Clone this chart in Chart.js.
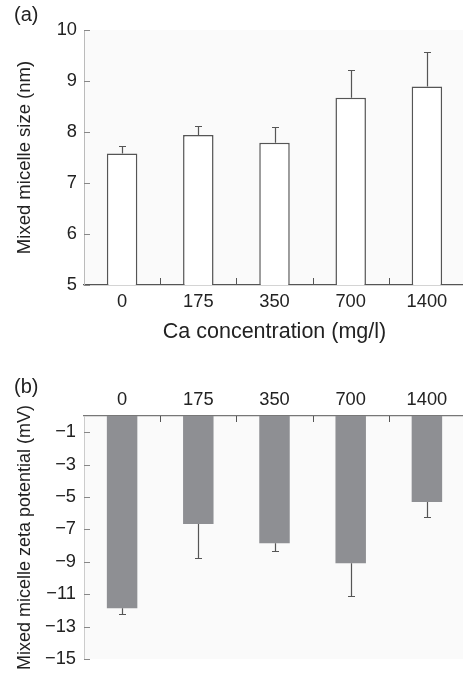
<!DOCTYPE html>
<html lang="en">
<head>
<meta charset="UTF-8" />
<title>Mixed micelle size and zeta potential</title>
<script src="https://cdn.jsdelivr.net/npm/chart.js"></script>
<style>
  html, body { margin: 0; padding: 0; background: #fff; overflow: hidden; }
  body { width: 463px; height: 678px; position: relative; font-family: "Liberation Sans", Arial, sans-serif; }
  canvas { position: absolute; left: 0; }
  #graficoTamanho { top: 0; }
  #graficoZeta { top: 345px; }
  .letra { position: absolute; left: 14px; font-size: 20px; color: #222; line-height: 23px; }
</style>
</head>
<body>
  <canvas id="graficoTamanho" width="469" height="345"></canvas>
  <canvas id="graficoZeta" width="469" height="333"></canvas>
  <div class="letra" style="top:3px">(a)</div>
  <div class="letra" style="top:375px">(b)</div>

<script>
  var categorias = ["0", "175", "350", "700", "1400"];
  var tamanho = [7.58, 7.94, 7.79, 8.67, 8.89];
  var tamanhoErro = [0.14, 0.18, 0.31, 0.55, 0.68];
  var zeta = [-11.86, -6.66, -7.85, -9.09, -5.31];
  var zetaErro = [0.38, 2.12, 0.47, 2.02, 0.93];
  var ticksTamanho = [5, 6, 7, 8, 9, 10];
  var ticksZeta = [-1, -3, -5, -7, -9, -11, -13, -15];

  var fonte = '"Liberation Sans", Arial, sans-serif';

  // error bars, one side only (sentido +1 up, -1 down)
  function barrasErro(erros, sentido) {
    return {
      id: "barrasErro",
      afterDatasetsDraw: function (chart) {
        var ctx = chart.ctx;
        var y = chart.scales.y;
        var meta = chart.getDatasetMeta(0);
        var valores = chart.data.datasets[0].data;
        ctx.save();
        ctx.strokeStyle = "#555";
        ctx.lineWidth = 1.2;
        ctx.beginPath();
        for (var i = 0; i < valores.length; i++) {
          var x = Math.round(meta.data[i].x) + 0.5;
          var y0 = y.getPixelForValue(valores[i]);
          var y1 = Math.round(y.getPixelForValue(valores[i] + sentido * erros[i])) + 0.5;
          ctx.moveTo(x, y0);
          ctx.lineTo(x, y1);
          ctx.moveTo(x - 3.5, y1);
          ctx.lineTo(x + 3.5, y1);
        }
        ctx.stroke();
        ctx.restore();
      }
    };
  }

  // light plot background and inward tick marks
  function eixos(eixoXEmCima, compX) {
    return {
      id: "eixos",
      beforeDraw: function (chart) {
        var a = chart.chartArea;
        chart.ctx.save();
        chart.ctx.fillStyle = "#fafafa";
        chart.ctx.fillRect(a.left, a.top, a.right - a.left, a.bottom - a.top);
        chart.ctx.restore();
      },
      afterDraw: function (chart) {
        var a = chart.chartArea;
        var ctx = chart.ctx;
        var x = chart.scales.x;
        var y = chart.scales.y;
        ctx.save();
        ctx.strokeStyle = "#888";
        ctx.lineWidth = 1;
        ctx.beginPath();
        y.ticks.forEach(function (t) {
          var py = Math.round(y.getPixelForValue(t.value)) + 0.5;
          ctx.moveTo(a.left, py);
          ctx.lineTo(a.left + 6, py);
        });
        ctx.stroke();
        ctx.strokeStyle = "#555";
        ctx.beginPath();
        for (var i = 0; i < x.ticks.length - 1; i++) {
          var px = Math.round((x.getPixelForTick(i) + x.getPixelForTick(i + 1)) / 2) + 0.5;
          var base = eixoXEmCima ? a.top : a.bottom;
          ctx.moveTo(px, base);
          ctx.lineTo(px, eixoXEmCima ? base + compX : base - compX);
        }
        ctx.stroke();
        ctx.restore();
      }
    };
  }

  new Chart(graficoTamanho, {
    type: "bar",
    data: {
      labels: categorias,
      datasets: [
        {
          data: tamanho,
          backgroundColor: "#ffffff",
          borderColor: "#555",
          borderWidth: 1.5,
          barPercentage: 0.4,
          categoryPercentage: 1
        }
      ]
    },
    options: {
      responsive: false,
      animation: false,
      layout: { padding: { top: 30, right: 4, left: 0, bottom: 0 } },
      plugins: { legend: { display: false }, tooltip: { enabled: false } },
      scales: {
        x: {
          position: "bottom",
          afterFit: function (s) { s.height = 60; },
          grid: { display: true, drawOnChartArea: false, drawTicks: false },
          border: { display: true, color: "#555", width: 1.3 },
          ticks: { color: "#222", padding: 6, font: { family: fonte, size: 18.3 } },
          title: {
            display: true,
            text: "Ca concentration (mg/l)",
            color: "#222",
            padding: { top: 0, bottom: 0 },
            font: { family: fonte, size: 21.5 }
          }
        },
        y: {
          min: 5,
          max: 10,
          afterFit: function (s) { s.width = 84; },
          afterBuildTicks: function (s) {
            s.ticks = ticksTamanho.map(function (v) { return { value: v }; });
          },
          grid: { display: true, drawOnChartArea: false, drawTicks: false },
          border: { display: true, color: "#bbb", width: 1 },
          ticks: { color: "#222", padding: 7, font: { family: fonte, size: 18.3 } },
          title: {
            display: true,
            text: "Mixed micelle size (nm)",
            color: "#222",
            padding: { top: 16, bottom: 0 },
            font: { family: fonte, size: 18.5, lineHeight: 1 }
          }
        }
      }
    },
    plugins: [eixos(false, 7), barrasErro(tamanhoErro, 1)]
  });

  new Chart(graficoZeta, {
    type: "bar",
    data: {
      labels: categorias,
      datasets: [
        {
          data: zeta,
          backgroundColor: "#8e8f93",
          borderWidth: 0,
          barPercentage: 0.4,
          categoryPercentage: 1
        }
      ]
    },
    options: {
      responsive: false,
      animation: false,
      layout: { padding: { top: 0, right: 4, left: 0, bottom: 10 } },
      plugins: { legend: { display: false }, tooltip: { enabled: false } },
      scales: {
        x: {
          position: "top",
          afterFit: function (s) { s.height = 71; },
          grid: { display: true, drawOnChartArea: false, drawTicks: false },
          border: { display: true, color: "#777", width: 1.3 },
          ticks: { color: "#222", padding: 5, font: { family: fonte, size: 18.3 } }
        },
        y: {
          min: -15,
          max: 0,
          afterFit: function (s) { s.width = 84; },
          afterBuildTicks: function (s) {
            s.ticks = ticksZeta.map(function (v) { return { value: v }; });
          },
          grid: { display: true, drawOnChartArea: false, drawTicks: false },
          border: { display: true, color: "#ccc", width: 1 },
          ticks: {
            color: "#222",
            padding: 8,
            font: { family: fonte, size: 18.3 },
            callback: function (v) { return "\u2212" + Math.abs(v); }
          },
          title: {
            display: true,
            text: "Mixed micelle zeta potential (mV)",
            color: "#222",
            padding: { top: 16, bottom: 0 },
            font: { family: fonte, size: 18, lineHeight: 1 }
          }
        }
      }
    },
    plugins: [eixos(true, 6), barrasErro(zetaErro, -1)]
  });
</script>
</body>
</html>
